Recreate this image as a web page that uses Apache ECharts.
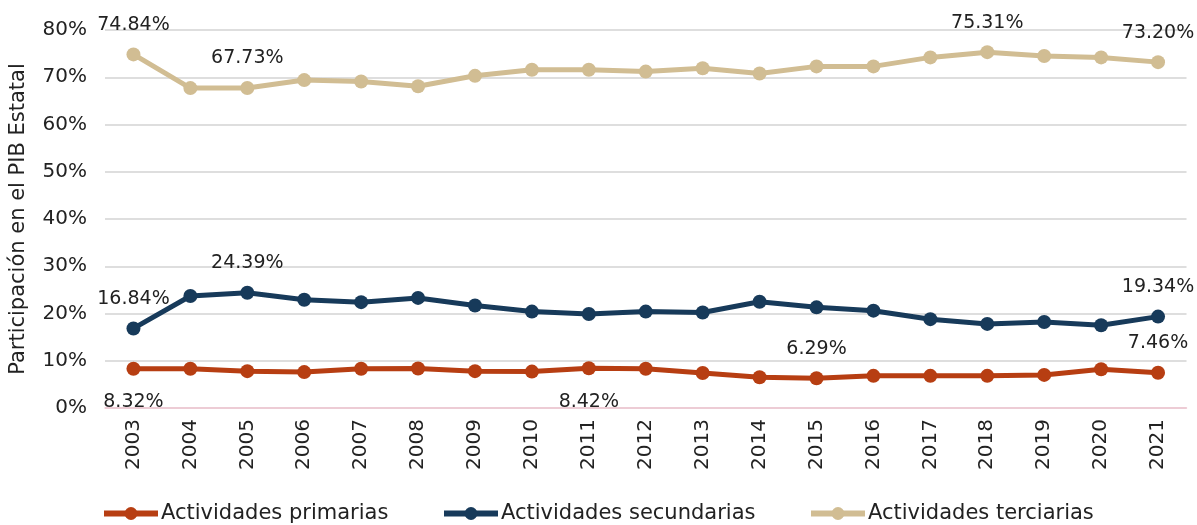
<!DOCTYPE html>
<html><head><meta charset="utf-8">
<script src="https://cdn.jsdelivr.net/npm/echarts@6/dist/echarts.min.js"></script>
<style>html,body{margin:0;padding:0;background:#fff}#c{width:1197px;height:525px}</style>
</head><body><div id="c"></div>
<script>
const years = ['2003','2004','2005','2006','2007','2008','2009','2010','2011','2012','2013','2014','2015','2016','2017','2018','2019','2020','2021'];
const primarias = [8.32,8.3,7.8,7.6,8.3,8.35,7.8,7.7,8.42,8.3,7.4,6.5,6.29,6.8,6.8,6.8,7.0,8.2,7.46];
const secundarias = [16.84,23.7,24.39,22.9,22.4,23.3,21.7,20.4,19.9,20.4,20.2,22.5,21.3,20.6,18.8,17.8,18.2,17.5,19.34];
const terciarias = [74.84,67.7,67.73,69.4,69.1,68.1,70.3,71.6,71.6,71.2,71.9,70.8,72.3,72.3,74.2,75.31,74.5,74.2,73.2];
const names = ['Actividades primarias','Actividades secundarias','Actividades terciarias'];
// indices of labelled points and where the label goes
const primLabels = {0:'bottom', 8:'bottom', 12:'top', 18:'top'};
const secLabels = {0:'top', 2:'top', 18:'top'};
const terLabels = {0:'top', 2:'top', 15:'top', 18:'top'};

const FONT = '"DejaVu Sans", sans-serif';
function build(vals, lbl) {
  return vals.map((v, i) => {
    if (lbl[i] === undefined) return v;
    return {value: v, label: {show: true, position: lbl[i], distance: lbl[i]==='top'?13:17,
      formatter: p => p.value.toFixed(2) + '%', color: '#222', fontSize: 19, fontFamily: FONT}};
  });
}
function series(name, vals, lbl, color) {
  return {name, type: 'line', data: build(vals, lbl), symbol: 'circle', symbolSize: 14,
    lineStyle: {width: 5, color}, itemStyle: {color}, label: {show: false}, z: 3};
}
const chart = echarts.init(document.getElementById('c'));
const legendBase = {top: 503, padding: 0, itemWidth: 54, itemHeight: 16, itemGap: 0,
  lineStyle: {width: 6}, itemStyle: {},
  textStyle: {fontSize: 21, color: '#222', fontFamily: FONT, padding: [0,0,0,-2]}};
chart.setOption({
  animation: false,
  grid: {left: 104.5, right: 10.5, top: 30, bottom: 117},
  xAxis: {type: 'category', data: years, boundaryGap: true,
    axisLine: {lineStyle: {color: '#f2c6d2', width: 1.5}}, axisTick: {show: false},
    axisLabel: {rotate: 90, margin: 11, fontSize: 20, color: '#222', fontFamily: FONT}},
  yAxis: {type: 'value', min: 0, max: 80, interval: 10,
    name: 'Participación en el PIB Estatal', nameLocation: 'middle', nameRotate: 90, nameGap: 76,
    nameTextStyle: {fontSize: 21, color: '#222', fontFamily: FONT},
    axisLabel: {formatter: '{value}%', margin: 18, fontSize: 20, color: '#222', fontFamily: FONT},
    splitLine: {lineStyle: {color: '#d3d3d3', width: 1.5}}},
  legend: [
    Object.assign({}, legendBase, {left: 101, data: [names[0]]}),
    Object.assign({}, legendBase, {left: 441, data: [names[1]]}),
    Object.assign({}, legendBase, {left: 808, data: [names[2]]})
  ],
  series: [
    series(names[0], primarias, primLabels, '#B73E12'),
    series(names[1], secundarias, secLabels, '#173A5A'),
    series(names[2], terciarias, terLabels, '#D1BD93')
  ]
});
</script></body></html>
